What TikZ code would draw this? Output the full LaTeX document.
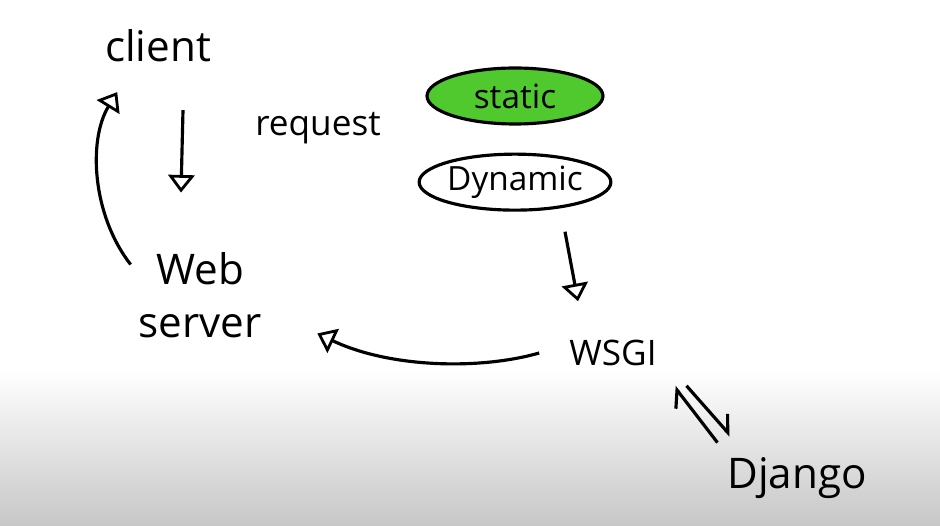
\documentclass[tikz,border=0pt]{standalone}
\usepackage{fontspec}
\setmainfont{Open Sans}
\usetikzlibrary{shapes.geometric, arrows.meta, positioning, calc}

\definecolor{staticgreen}{HTML}{4FC92E}

\begin{document}
\begin{tikzpicture}[
        x=0.02cm, y=-0.02cm,
        word/.style={font=\fontsize{24}{30}\selectfont, align=center, inner sep=2pt},
        bubble/.style={ellipse, draw, line width=1.8pt, inner sep=0pt, minimum height=1.12cm, font=\fontsize{19}{23}\selectfont},
        arr/.style={line width=1.8pt, -{Triangle[open, width=15pt, length=10pt, line width=1.6pt]}},
        harp/.style={line width=1.8pt, -{Straight Barb[harpoon, length=8pt, width=14pt]}}
    ]
        % page and the grey fade at the bottom
        \useasboundingbox (0,0) rectangle (940,526);
        \fill[white] (0,0) rectangle (940,526);
        \shade[top color=white, bottom color=gray!44] (0,370) rectangle (940,526);

        \node[word] (client) at (158,46) {client};
        \node[word, font=\fontsize{20}{24}\selectfont] (request) at (318,128) {request};
        \node[word] (web) at (200,295) {Web\\server};
        \node[bubble, fill=staticgreen, minimum width=3.52cm] (static) at (515,96) {static};
        \node[bubble, minimum width=3.76cm, below=0.54cm of static] (dynamic) {Dynamic};
        \node[word, font=\fontsize{20}{24}\selectfont] (wsgi) at (613,353) {WSGI};
        \node[word] (django) at (797,478) {Django};

        \draw[arr] ([shift={(25,44)}]client.south) -- ([shift={(-19,-56)}]web.north);
        \draw[arr] ([shift={(-4,16)}]web.north west) .. controls (92,215) and (88,140) .. ([shift={(16,26)}]client.south west);
        \draw[arr] ([shift={(50,20)}]dynamic.south) -- ([shift={(-35,-35)}]wsgi.north);
        \draw[arr] ([xshift=-15]wsgi.west) .. controls (480,370) and (390,368) .. ([shift={(52,-8)}]web.south east);
        \draw[harp] ([shift={(-6,-11)}]django.north west) -- ([shift={(14,17)}]wsgi.south east);
        \draw[harp] ([shift={(26,16)}]wsgi.south east) -- ([shift={(7,-18)}]django.north west);
    \end{tikzpicture}
\end{document}
